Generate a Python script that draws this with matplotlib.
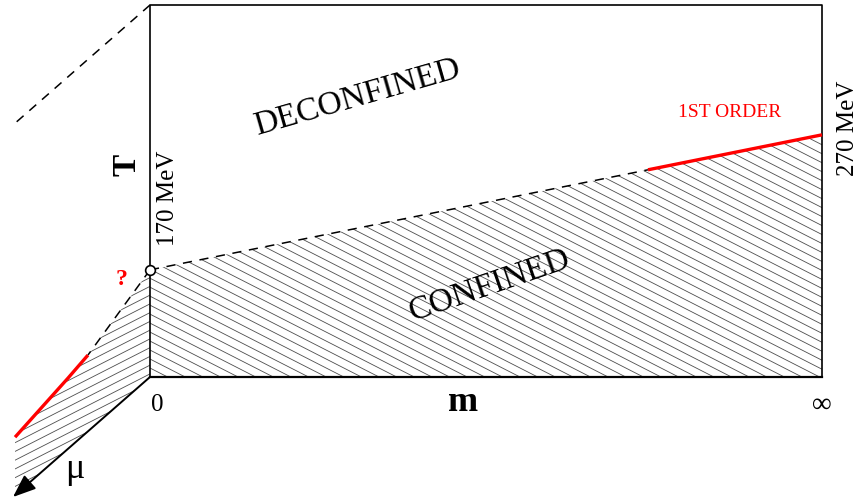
import numpy as np
import matplotlib
matplotlib.use('Agg')
import matplotlib.pyplot as plt
from matplotlib.patches import Polygon
from matplotlib.collections import LineCollection

plt.rcParams['font.family'] = ['Liberation Serif', 'DejaVu Serif']

# front plane: m from 0 (left) to infinity (right), T in box-height units
m_ends = [0.0, 1.0]
T_top = 1.0
Tc_m = [0.288, 0.651]          # transition temperature at m=0 and m=inf (170 / 270 MeV)
m_first_order = 0.741          # where the transition turns first order on the m axis
T_labels = ['170 MeV', '270 MeV']
m_labels = ['0', '\u221e']

# side plane (m=0): transition line vs chemical potential mu
mu_line = [0.0, 0.453, 0.599, 0.985]
T_mu_line = [0.288, 0.205, 0.190, 0.156]
mu_end = 1.0

# projection of the mu direction onto the page (data units)
ux, uy = -0.2039, -0.3226
sx, sy = 672.0, 372.0          # px per data unit


def proj(m, T, mu):
    m = np.asarray(m, float); T = np.asarray(T, float); mu = np.asarray(mu, float)
    return m + mu * ux, T + mu * uy


def hatch(ax, verts, angle, gap, lw=0.6, color='0.3'):
    patch = Polygon(verts, closed=True, facecolor='none', edgecolor='none')
    ax.add_patch(patch)
    v = np.array(verts)
    px = np.c_[v[:, 0] * sx, v[:, 1] * sy]
    a = np.deg2rad(angle)
    d = np.array([np.cos(a), np.sin(a)])
    n = np.array([-d[1], d[0]])
    proj_n = px @ n
    L = np.ptp(px[:, 0]) + np.ptp(px[:, 1]) + 50
    c = px.mean(axis=0)
    segs = []
    for k in np.arange(proj_n.min() - gap, proj_n.max() + gap, gap):
        p0 = c + n * (k - c @ n)
        a0 = p0 - d * L
        a1 = p0 + d * L
        segs.append([(a0[0] / sx, a0[1] / sy), (a1[0] / sx, a1[1] / sy)])
    lc = LineCollection(segs, colors=color, linewidths=lw, zorder=1)
    lc.set_clip_path(patch)
    ax.add_collection(lc)


fig = plt.figure(figsize=(8.59, 5.0), dpi=100)
ax = fig.add_axes([0, 0, 1, 1])
ax.set_xlim(-150 / sx, 709 / sx)
ax.set_ylim(-123 / sy, 377 / sy)
ax.axis('off')

# hatched confined regions
front = [(m_ends[0], 0), (m_ends[0], Tc_m[0]), (m_ends[1], Tc_m[1]), (m_ends[1], 0)]
hatch(ax, front, -27, 8.0)
sx_line, sy_line = proj(0, T_mu_line, mu_line)
side = [(0, 0)] + list(zip(sx_line, sy_line)) + [tuple(np.array(proj(0, 0, mu_line[-1])))]
hatch(ax, side, 27, 7.8)

# box
ax.plot([m_ends[0], m_ends[0], m_ends[1], m_ends[1]], [0, T_top, T_top, 0], color='black', lw=1.2, zorder=3)
ax.plot(m_ends, [0, 0], color='black', lw=1.6, zorder=3)

# back edge (dashed) and mu axis
bx, by = proj([0, 0], [T_top, T_top], [0, mu_end])
ax.plot(bx, by, color='black', lw=1.1, ls=(0, (6, 5)), zorder=3)
ax0, ay0 = proj(0, 0, 0)
ax1, ay1 = proj(0, 0, mu_end)
ax.annotate('', xy=(ax1, ay1), xytext=(ax0, ay0),
            arrowprops=dict(arrowstyle='-|>,head_length=1.4,head_width=0.55', color='black', lw=1.4,
                            shrinkA=0, shrinkB=0), zorder=4)

# transition line along m
Tc_fo = Tc_m[0] + (Tc_m[1] - Tc_m[0]) * m_first_order
ax.plot([m_ends[0], m_first_order], [Tc_m[0], Tc_fo], color='black', lw=1.1, ls=(0, (6, 5)), zorder=3)
ax.plot([m_first_order, m_ends[1]], [Tc_fo, Tc_m[1]], color='red', lw=2.4, zorder=4, solid_capstyle='butt')

# transition line along mu
ax.plot(sx_line[:2], sy_line[:2], color='black', lw=1.1, ls=(0, (6, 5)), zorder=3)
ax.plot(sx_line[1:], sy_line[1:], color='red', lw=2.4, zorder=4, solid_capstyle='butt')

# critical point marker
ax.plot([0], [Tc_m[0]], marker='o', ms=7, mfc='white', mec='black', mew=1.2, zorder=5)

# labels
ax.text(-0.034, 0.570, 'T', rotation=90, fontsize=24, fontweight='bold', ha='center', va='center')
ax.text(0.027, 0.481, T_labels[0], rotation=90, fontsize=18, ha='center', va='center')
ax.text(1.039, 0.669, T_labels[1], rotation=90, fontsize=18, ha='center', va='center')
ax.text(0.863, 0.712, '1ST ORDER', color='red', fontsize=14, ha='center', va='center')
ax.text(0.308, 0.75, 'DECONFINED', rotation=16, fontsize=24, ha='center', va='center')
ax.text(0.506, 0.245, 'CONFINED', rotation=19, fontsize=24, ha='center', va='center')
ax.text(-0.042, 0.261, '?', color='red', fontsize=17, fontweight='bold', ha='center', va='center')
ax.text(0.0104, -0.075, m_labels[0], fontsize=18, ha='center', va='center')
ax.text(0.466, -0.068, 'm', fontsize=26, fontweight='bold', ha='center', va='center')
ax.text(1.0, -0.075, m_labels[1], fontsize=20, ha='center', va='center')
ax.text(-0.112, -0.25, '\u03bc', fontsize=26, ha='center', va='center')

fig.savefig('out.png', dpi=100)
